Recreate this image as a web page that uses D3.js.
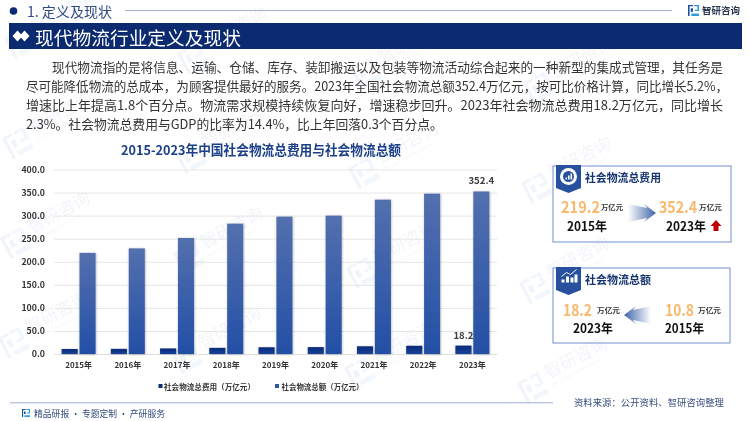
<!DOCTYPE html>
<html><head><meta charset="utf-8">
<script src="https://cdn.jsdelivr.net/npm/d3@7"></script>
<style>html,body{margin:0;padding:0;background:#fff;overflow:hidden}svg{display:block}
text{font-family:"Noto Sans CJK SC","Noto Sans",sans-serif}</style></head>
<body><svg id="c" width="750" height="421"></svg>
<script>
const years=["2015年","2016年","2017年","2018年","2019年","2020年","2021年","2022年","2023年"];
const costValues=[10.8,11.1,12.1,13.3,14.6,14.9,16.7,17.8,18.2];
const totalValues=[219.2,229,251.5,282.6,297.8,300,334.6,347.6,352.4];
const yTicks=[0,50,100,150,200,250,300,350,400];
const seriesNames=["社会物流总费用（万亿元）","社会物流总额（万亿元）"];
const paragraph=[
 "现代物流指的是将信息、运输、仓储、库存、装卸搬运以及包装等物流活动综合起来的一种新型的集成式管理，其任务是",
 "尽可能降低物流的总成本，为顾客提供最好的服务。2023年全国社会物流总额352.4万亿元，按可比价格计算，同比增长5.2%，",
 "增速比上年提高1.8个百分点。物流需求规模持续恢复向好，增速稳步回升。2023年社会物流总费用18.2万亿元，同比增长",
 "2.3%。社会物流总费用与GDP的比率为14.4%，比上年回落0.3个百分点。"];

const svg=d3.select("#c");
const defs=svg.append("defs");
function grad(id,stops,x2,y2){const g=defs.append("linearGradient").attr("id",id).attr("x1",0).attr("y1",0).attr("x2",x2).attr("y2",y2);
 stops.forEach(s=>g.append("stop").attr("offset",s[0]).attr("stop-color",s[1]).attr("stop-opacity",s[2]));}
grad("gTotal",[[0,"#5470ae",1],[1,"#234fa6",1]],0,1);
grad("gCost",[[0,"#0b2a78",1],[1,"#17439a",1]],0,1);
grad("gArrR",[[0,"#3f63a8",0],[1,"#3f63a8",1]],1,0);
grad("gArrL",[[0,"#3f63a8",1],[1,"#3f63a8",0]],1,0);
const f=defs.append("filter").attr("id","sh").attr("x","-20%").attr("y","-5%").attr("width","140%").attr("height","110%");
f.append("feDropShadow").attr("dx",0.5).attr("dy",0.5).attr("stdDeviation",0.8).attr("flood-color","#000").attr("flood-opacity",0.3);

function T(x,y,s,o={}){return svg.append("text").attr("x",x).attr("y",y).attr("dominant-baseline","central")
 .attr("font-size",o.size||10).attr("font-weight",o.w||400).attr("fill",o.c||"#222").attr("text-anchor",o.a||"start")
 .attr("textLength",o.len||null).attr("lengthAdjust",o.len?"spacingAndGlyphs":null).text(s);}

function logo(g,s,c1,c2){
 g.append("path").attr("d",`M0 0H${s*.45}V${s*.12}H${s*.14}V${s}H0Z`).attr("fill",c1);
 g.append("path").attr("d",`M${s*.25} ${s*.3}H${s*.45}V${s*.62}H${s*.25}Z`).attr("fill",c1);
 g.append("path").attr("d",`M${s*.55} 0H${s}V${s*.55}H${s*.62}V${s*.43}H${s*.86}V${s*.12}H${s*.55}Z`).attr("fill",c2);
 g.append("path").attr("d",`M${s*.3} ${s*.78}H${s}V${s}H${s*.3}Z`).attr("fill",c2);
}

// watermarks (under the content, only where they fit inside the frame and clear of the cards' figures)
const wm=svg.append("g").attr("opacity",0.06).attr("pointer-events","none");
for(let r=0;r<4;r++)for(let k=0;k<5;k++){
 const px=20+k*173-r*2,py=103+r*100+k*15-60;
 if(py<40||py>395||px>640)continue;
 if(px>540&&py>270)continue;
 const g=wm.append("g").attr("transform",`translate(${px},${py}) rotate(-28)`);
 logo(g.append("g").attr("transform","translate(-12,-12)"),24,"#1d5fa8","#1d7fc8");
 g.append("text").attr("x",18).attr("y",-1).attr("font-size",17).attr("fill","#1d4f8c").text("智研咨询");
 g.append("text").attr("x",18).attr("y",8).attr("font-size",3.6).attr("fill","#1d4f8c").text("INTELLIGENCE RESEARCH GROUP");
}

// header
svg.append("circle").attr("cx",13.5).attr("cy",11).attr("r",3.8).attr("fill","#0b2a6f");
T(27,11,"1. 定义及现状",{size:13.8,c:"#2f4a80",len:85});
svg.append("line").attr("x1",125).attr("x2",672).attr("y1",10.5).attr("y2",10.5).attr("stroke","#a3b3d6").attr("stroke-width",1);
logo(svg.append("g").attr("transform","translate(688,5)"),11,"#1d4f9c","#2f9bd9");
T(702,10,"智研咨询",{size:9.6,w:700,c:"#2a3550",len:38});
svg.append("rect").attr("x",9).attr("y",23).attr("width",733).attr("height",26).attr("fill","#0b2a6f");
[[17.5,36],[24.5,36]].forEach(p=>svg.append("path").attr("d",`M${p[0]-5} ${p[1]}L${p[0]} ${p[1]-5.5}L${p[0]+5} ${p[1]}L${p[0]} ${p[1]+5.5}Z`).attr("fill","#fff"));
T(35,36,"现代物流行业定义及现状",{size:18.7,c:"#fff",len:206});

// paragraph
const pX=[52,26,26,26],pY=[66,85,104,123],pLen=[671,702,697,null];
paragraph.forEach((s,i)=>T(pX[i],pY[i],s,{size:12.8,c:"#333",len:pLen[i]}));

// chart
T(261,149,"2015-2023年中国社会物流总费用与社会物流总额",{size:13.2,w:700,c:"#1c4088",a:"middle",len:280});
const y=d3.scaleLinear().domain([0,400]).range([354,169.5]);
const x=d3.scaleBand().domain(years).range([54,497]);
const sub=d3.scaleBand().domain([0,1]).range([0,34]).paddingInner(0.1);
const xo=d=>x(d)+(x.bandwidth()-34)/2;

const gy=svg.append("g").attr("transform","translate(54,0)").call(d3.axisLeft(y).tickValues(yTicks).tickSize(0).tickFormat(d3.format(".1f")));
gy.select(".domain").remove();
gy.selectAll("text").attr("x",-9).attr("font-family",'"Noto Sans CJK SC"').attr("font-size",8.8).attr("font-weight",700).attr("fill","#333");
gy.selectAll("line").attr("x2",443).attr("stroke","#e6e6e6").attr("stroke-width",1);
const gx=svg.append("g").attr("transform","translate(0,354)").call(d3.axisBottom(x).tickSize(0).tickPadding(8));
gx.select(".domain").attr("stroke","#e0e0e0");
gx.selectAll("text").attr("font-family",'"Noto Sans CJK SC"').attr("font-size",8).attr("font-weight",700).attr("fill","#333");

svg.append("g").selectAll("rect").data(costValues).join("rect")
 .attr("x",(d,i)=>xo(years[i])+sub(0)).attr("width",sub.bandwidth()).attr("y",d=>y(d)).attr("height",d=>y(0)-y(d))
 .attr("fill","url(#gCost)").attr("filter","url(#sh)");
svg.append("g").selectAll("rect").data(totalValues).join("rect")
 .attr("x",(d,i)=>xo(years[i])+sub(1)).attr("width",sub.bandwidth()).attr("y",d=>y(d)).attr("height",d=>y(0)-y(d))
 .attr("fill","url(#gTotal)").attr("filter","url(#sh)");
const last=years.length-1;
T(xo(years[last])+sub(1)+sub.bandwidth()/2,y(totalValues[last])-11,totalValues[last].toFixed(1),{size:9.6,w:700,c:"#404040",a:"middle"});
T(xo(years[last])+sub(0)+sub.bandwidth()/2,y(costValues[last])-10.5,costValues[last].toFixed(1),{size:9.6,w:700,c:"#404040",a:"middle"});

// legend
svg.append("rect").attr("x",158.5).attr("y",384).attr("width",4).attr("height",4).attr("fill","#0b2a78");
T(164,386,seriesNames[0],{size:7.6,w:700,c:"#333",len:91});
svg.append("rect").attr("x",275).attr("y",384).attr("width",4).attr("height",4).attr("fill","#2a55a8");
T(281.5,386,seriesNames[1],{size:7.6,w:700,c:"#333",len:82});

// footer
svg.append("line").attr("x1",10).attr("x2",553).attr("y1",402.8).attr("y2",402.8).attr("stroke","#9fb0d0").attr("stroke-width",1);
logo(svg.append("g").attr("transform","translate(22,409)"),8,"#1d4f9c","#2f9bd9");
T(34,413,"精品研报 · 专题定制 · 产研服务",{size:9,c:"#2f4a80",len:131});
T(574,402,"资料来源：公开资料、智研咨询整理",{size:9.3,c:"#3a4f7f",len:150});

// cards
function card(cx,cy,w,h,title,tlen,ic){
 svg.append("rect").attr("x",cx).attr("y",cy).attr("width",w).attr("height",h).attr("fill","none").attr("stroke","#7290cc").attr("stroke-width",1);
 svg.append("path").attr("d",`M${cx+3} ${cy-1}h25v23l-12.5,5l-12.5,-5z`).attr("fill","#27519f");
 T(cx+32,cy+11,title,{size:10.8,w:700,c:"#17356f",len:tlen});
 const ig=svg.append("g").attr("transform",`translate(${cx+15.5},${cy+10.5})`);
 if(ic==0){
  ig.append("circle").attr("r",8.5).attr("fill","#fff");
  ig.append("circle").attr("r",5.5).attr("fill","#27519f");
  [[-3,1,2],[-.5,-1,4],[2,-3,6]].forEach(b=>ig.append("rect").attr("x",b[0]).attr("y",b[1]).attr("width",1.6).attr("height",b[2]).attr("fill","#fff"));
 } else {
  [[-7,1,3],[-2.5,-2,6],[2,-1,5],[6,-4,8]].forEach(b=>ig.append("rect").attr("x",b[0]).attr("y",b[1]).attr("width",3).attr("height",b[2]).attr("fill","#fff"));
  ig.append("path").attr("d","M-7,-2L-2,-6L2,-4L8,-9").attr("fill","none").attr("stroke","#fff").attr("stroke-width",1);
 }
}
function arrow(x0,x1,cyy,id){
 const dir=x1>x0?1:-1,hb=x1-dir*9;
 svg.append("path").attr("d",`M${x0} ${cyy-9}L${hb} ${cyy-5}L${hb-dir*3} ${cyy-9}L${x1} ${cyy}L${hb-dir*3} ${cyy+9}L${hb} ${cyy+5}L${x0} ${cyy+9}Z`).attr("fill",`url(#${id})`);
}
const orange="#f9b86c";
card(553,166,178,76,"社会物流总费用",76,0);
T(561,206,totalValues[0].toFixed(1),{size:15.5,w:700,c:orange,len:39});
T(601,207,"万亿元",{size:7.3,w:700,c:"#333",len:22});
T(567,225,years[0],{size:12.5,w:700,c:"#111",len:40});
arrow(628,656,213,"gArrR");
T(659,206,totalValues[last].toFixed(1),{size:15.5,w:700,c:orange,len:38});
T(699,207,"万亿元",{size:7.3,w:700,c:"#333",len:23});
T(666,225,years[last],{size:12.5,w:700,c:"#111",len:40});
svg.append("path").attr("d","M716 220L721.5 226H718.5V231H713.5V226H710.5Z").attr("fill","#c00000");

card(553,268,177,75,"社会物流总额",66,1);
T(563,309,costValues[last].toFixed(1),{size:15.5,w:700,c:orange,len:29});
T(597,310,"万亿元",{size:7.3,w:700,c:"#333",len:23});
T(573,327,years[last],{size:12.5,w:700,c:"#111",len:40});
arrow(651,624,315,"gArrL");
T(665,309,costValues[0].toFixed(1),{size:15.5,w:700,c:orange,len:29});
T(698,310,"万亿元",{size:7.3,w:700,c:"#333",len:23});
T(665,327,years[0],{size:12.5,w:700,c:"#111",len:39});
</script></body></html>
